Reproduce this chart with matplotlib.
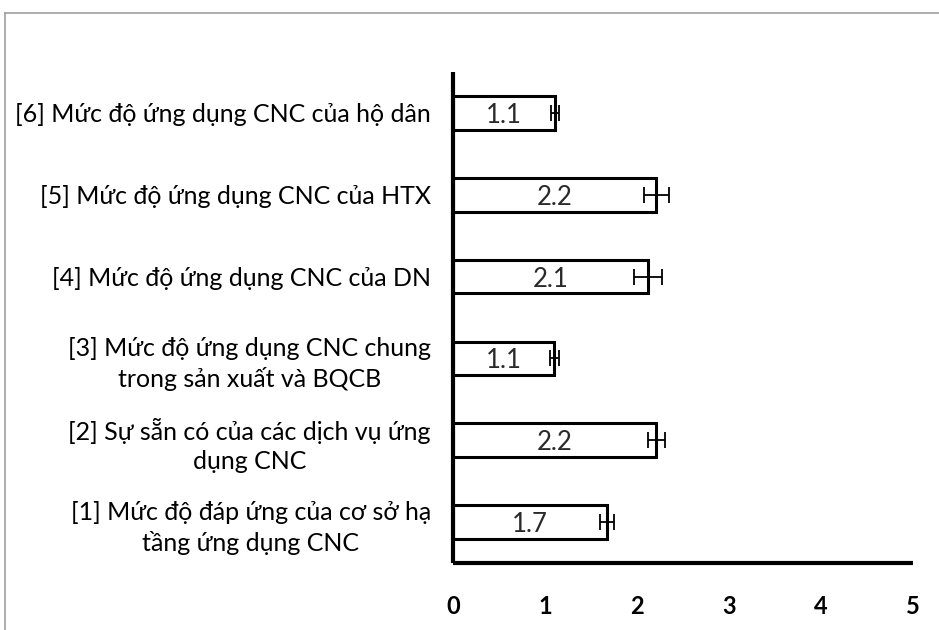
import matplotlib
matplotlib.use("Agg")
import matplotlib.pyplot as plt
from matplotlib.lines import Line2D

categories = [
    "[1] Mức độ đáp ứng của cơ sở hạ\ntầng ứng dụng CNC",
    "[2] Sự sẵn có của các dịch vụ ứng\ndụng CNC",
    "[3] Mức độ ứng dụng CNC chung\ntrong sản xuất và BQCB",
    "[4] Mức độ ứng dụng CNC của DN",
    "[5] Mức độ ứng dụng CNC của HTX",
    "[6] Mức độ ứng dụng CNC của hộ dân",
]
values = [1.67, 2.21, 1.10, 2.12, 2.21, 1.11]
errors = [0.075, 0.09, 0.05, 0.15, 0.135, 0.045]
value_labels = ["1.7", "2.2", "1.1", "2.1", "2.2", "1.1"]
xticks = [0, 1, 2, 3, 4, 5]

plt.rcParams['font.family'] = ['Lato', 'DejaVu Sans']

fig = plt.figure(figsize=(9.39, 6.30), dpi=100)
ax = fig.add_axes([453/939, 1-563/630, 460/939, 491/630])

y = list(range(len(categories)))
ax.barh(y, values, height=0.41, color="white", edgecolor="black", linewidth=2.2, zorder=2)
ax.errorbar(values, y, xerr=errors, fmt="none", ecolor="black", elinewidth=1.3,
            capsize=6, capthick=1.3, zorder=3)
for yi, v, lab in zip(y, values, value_labels):
    ax.text(v/2, yi - 0.03, lab, ha="center", va="center", fontsize=18.5, color="#2a2a2a", zorder=4)

ax.set_xlim(0, 5)
ax.set_ylim(-0.5, 5.5)
ax.set_xticks(xticks)
ax.set_xticklabels([str(t) for t in xticks], fontsize=17, fontweight="bold")
ax.set_yticks(y)
ax.set_yticklabels(categories, fontsize=18, multialignment="center", linespacing=1.35)
ax.tick_params(axis="both", length=0)
ax.tick_params(axis="x", pad=23)
ax.tick_params(axis="y", pad=16)
for s in ["top", "right"]:
    ax.spines[s].set_visible(False)
for s in ["left", "bottom"]:
    ax.spines[s].set_linewidth(3)
    ax.spines[s].set_capstyle("butt")

fig.add_artist(Line2D([4.5/939, 4.5/939], [0, 1-12.5/630], transform=fig.transFigure,
                      color="#a0a0a0", linewidth=1.2))
fig.add_artist(Line2D([4.5/939, 1], [1-12.5/630, 1-12.5/630], transform=fig.transFigure,
                      color="#a0a0a0", linewidth=1.2))

fig.savefig("out.png", dpi=100)
